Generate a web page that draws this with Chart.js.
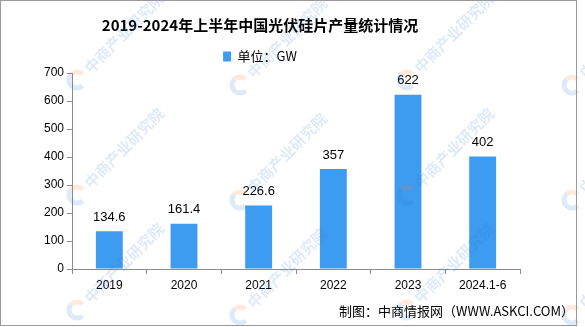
<!DOCTYPE html>
<html>
<head>
<meta charset="utf-8">
<script src="https://cdn.jsdelivr.net/npm/chart.js@4.4.0/dist/chart.umd.min.js"></script>
<style>
  html, body { margin: 0; padding: 0; background: #fff; }
  #c { display: block; }
</style>
</head>
<body>
<canvas id="c" width="585" height="327"></canvas>
<script>
// 产量数据（GW）
const years = ['2019', '2020', '2021', '2022', '2023', '2024.1-6'];
const output = [134.6, 161.4, 226.6, 357, 622, 402];
const yMin = 0;
const yMax = 700;
const yStep = 100;

const BAR = '#3d9bf0';
const AXIS = '#8c8c8c';
const CJK = '"Noto Sans CJK SC", "Liberation Sans", sans-serif';
const NUM = '"Liberation Sans", "Noto Sans CJK SC", sans-serif';

// 外框、水印、数值标签和底部来源
const decor = {
  id: 'decor',
  beforeDraw(chart) {
    const ctx = chart.ctx;
    ctx.save();
    ctx.fillStyle = '#fff';
    ctx.fillRect(0, 0, chart.width, chart.height);
    ctx.restore();
  },
  afterDatasetsDraw(chart) {
    const ctx = chart.ctx;
    const meta = chart.getDatasetMeta(0);
    ctx.save();
    ctx.font = '13px ' + NUM;
    ctx.fillStyle = '#000';
    ctx.textAlign = 'center';
    ctx.textBaseline = 'middle';
    meta.data.forEach((bar, i) => {
      ctx.fillText(String(output[i]), bar.x, bar.y - 14);
    });
    ctx.restore();
  },
  afterDraw(chart) {
    const ctx = chart.ctx;
    ctx.save();
    // 水印
    const cols = [-88, 77, 240, 407, 572];
    const rows = [-38, 80, 195, 310];
    ctx.globalAlpha = 0.16;
    cols.forEach((cx, ci) => {
      rows.forEach((cy, ri) => {
        const y = cy + (ci % 2 ? 0 : 5);
        ctx.save();
        ctx.translate(cx, y);
        ctx.beginPath();
        ctx.arc(0, 0, 8, Math.PI * 0.25, Math.PI * 1.25);
        ctx.lineWidth = 5;
        ctx.strokeStyle = '#2f7fd0';
        ctx.stroke();
        ctx.beginPath();
        ctx.arc(0, 0, 8, Math.PI * 1.25, Math.PI * 1.75);
        ctx.strokeStyle = '#f07a2a';
        ctx.stroke();
        ctx.rotate(-Math.PI / 4);
        ctx.font = 'bold 15px ' + CJK;
        ctx.fillStyle = '#2f7fd0';
        ctx.textBaseline = 'middle';
        ctx.fillText('中商产业研究院', 14, 0);
        ctx.restore();
      });
    });
    ctx.restore();

    ctx.save();
    ctx.strokeStyle = '#9a9a9a';
    ctx.lineWidth = 1;
    ctx.strokeRect(0.5, 0.5, 576, 325);
    ctx.font = '13px ' + CJK;
    ctx.fillStyle = '#000';
    ctx.textAlign = 'right';
    ctx.textBaseline = 'middle';
    ctx.fillText('制图：中商情报网（WWW.ASKCI.COM）', 574, 311);
    ctx.restore();
  }
};

new Chart(document.getElementById('c'), {
  type: 'bar',
  data: {
    labels: years,
    datasets: [{
      label: '单位：GW',
      data: output,
      backgroundColor: BAR,
      borderWidth: 0,
      categoryPercentage: 1,
      barPercentage: 0.36
    }]
  },
  options: {
    responsive: false,
    animation: false,
    devicePixelRatio: 1,
    layout: { padding: { left: 0, right: 65, top: 0, bottom: 30 } },
    plugins: {
      title: {
        display: true,
        text: '2019-2024年上半年中国光伏硅片产量统计情况',
        color: '#000',
        font: { family: CJK, size: 15, weight: 'bold' },
        padding: { top: 16, bottom: 8 }
      },
      legend: {
        display: true,
        labels: {
          color: '#000',
          font: { family: CJK, size: 13 },
          boxWidth: 8,
          boxHeight: 10,
          padding: 8
        }
      },
      tooltip: { enabled: false }
    },
    scales: {
      x: {
        grid: { drawOnChartArea: false, color: AXIS, tickLength: 5 },
        border: { color: AXIS },
        ticks: { color: '#000', font: { family: NUM, size: 12 }, padding: 4, maxRotation: 0 },
        afterFit(s) { s.height = 28; }
      },
      y: {
        min: yMin,
        max: yMax,
        grid: { drawOnChartArea: false, color: AXIS, tickLength: 5 },
        border: { color: AXIS },
        ticks: { stepSize: yStep, color: '#000', font: { family: NUM, size: 12 }, padding: 3 },
        afterFit(s) { s.width = 72; }
      }
    }
  },
  plugins: [decor]
});
</script>
</body>
</html>
